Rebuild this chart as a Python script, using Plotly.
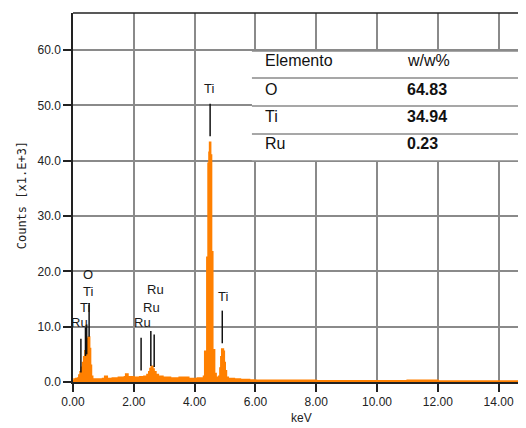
import plotly.graph_objects as go

# ---------------- data ----------------
energy_kev = [0.00, 0.04, 0.10, 0.16, 0.20, 0.24, 0.28, 0.32, 0.36, 0.40, 0.44, 0.47, 0.51,
              0.54, 0.57, 0.60, 0.64, 0.80, 0.98, 1.05, 1.12, 1.30, 1.50, 1.70, 1.74, 1.80,
              2.00, 2.20, 2.34, 2.44, 2.50, 2.54, 2.58, 2.62, 2.66, 2.72, 2.80, 2.95, 3.20,
              3.50, 3.80, 4.10, 4.30, 4.34, 4.41, 4.45, 4.48, 4.50, 4.52, 4.55, 4.59, 4.65,
              4.70, 4.80, 4.84, 4.87, 4.90, 4.94, 4.97, 5.00, 5.04, 5.10, 5.30, 5.50, 5.80,
              6.00, 8.00, 10.00, 11.00, 12.00, 14.00, 14.90]
counts_k = [0.2, 0.5, 0.6, 0.7, 1.2, 1.8, 2.6, 3.5, 4.5, 5.6, 6.5, 7.8, 8.1,
            6.0, 3.0, 1.0, 0.5, 0.5, 0.6, 1.0, 0.6, 0.7, 0.8, 0.9, 1.4, 0.9,
            0.8, 0.9, 1.0, 1.3, 1.8, 2.4, 2.8, 2.3, 1.8, 1.3, 1.0, 0.8, 0.7,
            0.8, 0.6, 0.7, 1.0, 5.5, 22.5, 39.5, 41.5, 43.3, 41.0, 23.5, 5.8, 1.5,
            0.8, 1.0, 2.5, 4.5, 5.9, 5.5, 3.5, 2.0, 0.8, 0.6, 0.5, 0.4, 0.3,
            0.25, 0.2, 0.2, 0.25, 0.15, 0.15, 0.15]

marker_energy = [0.26, 0.41, 0.45, 0.53, 2.24, 2.56, 2.67, 4.51, 4.91]
marker_bottom = [1.7, 4.7, 5.0, 8.2, 2.1, 2.9, 2.7, 44.4, 7.0]
marker_top = [7.8, 9.9, 10.4, 14.3, 8.0, 9.2, 8.6, 50.3, 12.9]
marker_label = ["Ru", "Ti", "Ti", "O", "Ru", "Ru", "Ru", "Ti", "Ti"]
label_x = [0.23, 0.38, 0.50, 0.50, 2.29, 2.59, 2.71, 4.48, 4.92]
label_y = [10.7, 13.5, 16.4, 19.4, 10.7, 13.4, 16.7, 53.1, 15.5]

table_header = ["Elemento", "w/w%"]
table_elements = ["O", "Ti", "Ru"]
table_wt = ["64.83", "34.94", "0.23"]

x_ticks = [0, 2, 4, 6, 8, 10, 12, 14]
y_ticks = [0, 10, 20, 30, 40, 50, 60]

# ---------------- figure ----------------
ORANGE = "#FF8000"
GRID = "#8a8a8a"
FONT = "Liberation Sans, Arial, sans-serif"

fig = go.Figure()

fig.add_trace(go.Scatter(
    x=energy_kev, y=counts_k, mode="lines", line=dict(color=ORANGE, width=2, shape="hv"),
    fill="tozeroy", fillcolor=ORANGE, hoverinfo="skip", showlegend=False))

seg_x, seg_y = [], []
for e, b, t in zip(marker_energy, marker_bottom, marker_top):
    seg_x += [e, e, None]
    seg_y += [b, t, None]
fig.add_trace(go.Scatter(x=seg_x, y=seg_y, mode="lines",
                         line=dict(color="#111111", width=1.5),
                         hoverinfo="skip", showlegend=False))

for lx, ly, lt in zip(label_x, label_y, marker_label):
    fig.add_annotation(x=lx, y=ly, text=lt, showarrow=False,
                       font=dict(family=FONT, size=13, color="#1a1a1a"),
                       xanchor="center", yanchor="middle")

# ---- table overlay (paper coords) ----
tx0, tx1 = 0.395, 1.0
row_lines = [0.897, 0.824, 0.748, 0.672, 0.599]
fig.add_shape(type="rect", xref="paper", yref="paper", x0=tx0, x1=tx1,
              y0=row_lines[-1], y1=row_lines[0], fillcolor="white",
              line=dict(width=0), layer="above")
for ry in row_lines:
    fig.add_shape(type="line", xref="paper", yref="paper", x0=tx0, x1=tx1,
                  y0=ry, y1=ry, line=dict(color=GRID, width=1.5), layer="above")

row_text_y = [0.870, 0.794, 0.720, 0.645]
col_x = [0.419, 0.733]
rows = [(table_header[0], table_header[1], False)] + \
       [(el, wt, True) for el, wt in zip(table_elements, table_wt)]
for (c0, c1, bold), ty in zip(rows, row_text_y):
    fig.add_annotation(xref="paper", yref="paper", x=col_x[0], y=ty, text=c0,
                       showarrow=False, xanchor="left", yanchor="middle",
                       font=dict(family=FONT, size=16, color="#111111"))
    fig.add_annotation(xref="paper", yref="paper", x=col_x[1], y=ty,
                       text=f"<b>{c1}</b>" if bold else c1,
                       showarrow=False, xanchor="left", yanchor="middle",
                       font=dict(family=FONT, size=16, color="#111111"))

# top border
fig.add_shape(type="line", xref="paper", yref="paper", x0=0, x1=1, y0=1, y1=1,
              line=dict(color="#222222", width=1.5))

# axis titles as annotations
fig.add_annotation(xref="paper", yref="paper", x=0.505, y=-0.0967, text="keV",
                   showarrow=False, xanchor="center", yanchor="middle",
                   font=dict(family=FONT, size=12, color="#222222"))
fig.add_annotation(xref="paper", yref="paper", x=-0.1126, y=0.506,
                   text="Counts [x1.E+3]", textangle=-90,
                   showarrow=False, xanchor="center", yanchor="middle",
                   font=dict(family="DejaVu Sans Mono, monospace", size=12, color="#222222"))

fig.update_layout(
    width=518, height=420,
    margin=dict(l=65, r=0, t=5, b=46),
    paper_bgcolor="white", plot_bgcolor="white",
    showlegend=False,
    font=dict(family=FONT, size=12, color="#222222"),
)
fig.update_xaxes(
    range=[0, 14.9], tickvals=x_ticks, tickformat=".2f",
    showgrid=True, gridcolor=GRID, gridwidth=1.5, zeroline=False,
    showline=True, linecolor="#222222", linewidth=1.5,
    ticks="outside", ticklen=8, tickwidth=1.5, tickcolor="#222222",
    tickfont=dict(family=FONT, size=12, color="#222222"),
)
fig.update_yaxes(
    range=[0, 66.7], tickvals=y_ticks, tickformat=".1f",
    showgrid=True, gridcolor=GRID, gridwidth=1.5, zeroline=False,
    showline=True, linecolor="#222222", linewidth=1.5,
    ticks="outside", ticklen=8, tickwidth=1.5, tickcolor="#222222",
    tickfont=dict(family=FONT, size=12, color="#222222"),
)

fig.write_html("out.html")
